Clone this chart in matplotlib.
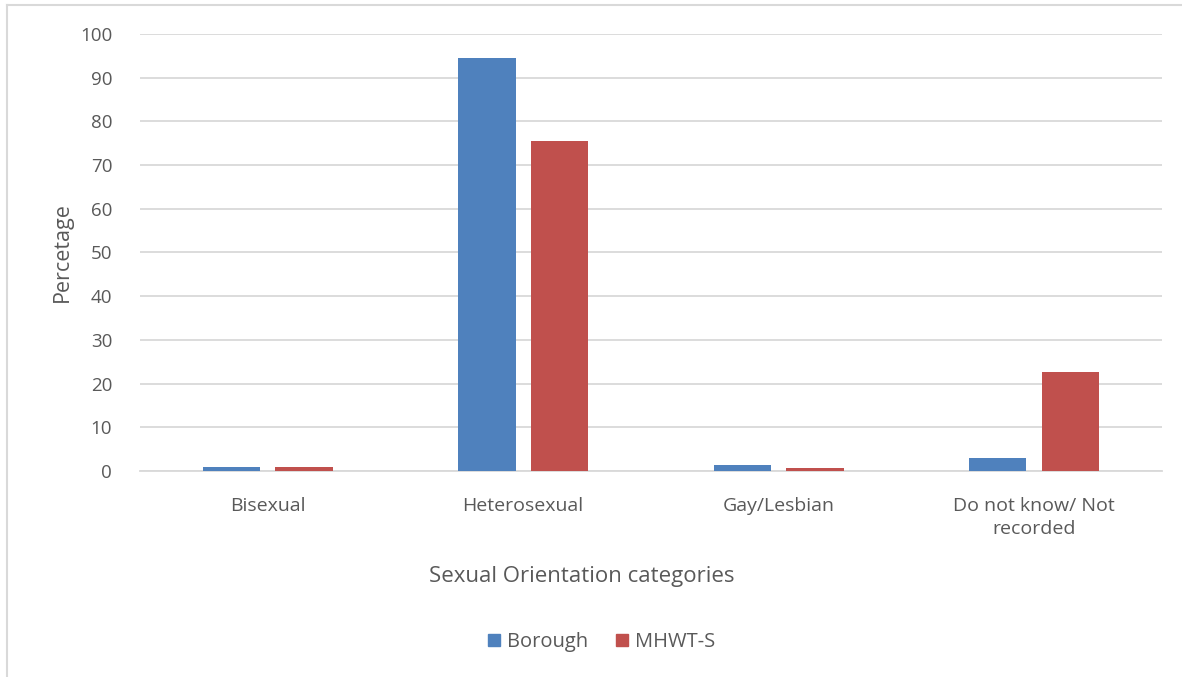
import numpy as np
import matplotlib
matplotlib.use('Agg')
import matplotlib.pyplot as plt
from matplotlib.lines import Line2D

plt.rcParams['font.family'] = ['Open Sans', 'DejaVu Sans']

categories = ['Bisexual', 'Heterosexual', 'Gay/Lesbian', 'Do not know/ Not\nrecorded']
borough = [0.9, 94.5, 1.4, 3.0]
mhwt_s = [1.0, 75.5, 0.6, 22.7]
series_names = ['Borough', 'MHWT-S']
yticks = list(range(0, 101, 10))

blue = '#4f81bd'
red = '#c0504d'
text_col = '#595959'
grid_col = '#d9d9d9'

fig = plt.figure(figsize=(11.82, 6.77), dpi=100)
ax = fig.add_axes([0.1184, 0.3043, 0.8646, 0.6455])

x = np.arange(len(categories))
width = 0.225
gap = 0.06
ax.bar(x - (width + gap) / 2, borough, width, color=blue, zorder=3)
ax.bar(x + (width + gap) / 2, mhwt_s, width, color=red, zorder=3)

ax.set_xlim(-0.5, len(categories) - 0.5)
ax.set_ylim(0, 100)
ax.set_yticks(yticks)
ax.set_xticks(x)
ax.set_xticklabels(categories, fontsize=14, color=text_col, linespacing=1.3)
ax.tick_params(axis='y', labelsize=13.5, labelcolor=text_col, length=0, pad=20)
ax.tick_params(axis='x', length=0, pad=19)

ax.grid(axis='y', color=grid_col, linewidth=1.3, zorder=0)
for side in ['top', 'right', 'left']:
    ax.spines[side].set_visible(False)
ax.spines['bottom'].set_color(grid_col)
ax.spines['bottom'].set_linewidth(1.3)

ax.set_ylabel('Percetage', fontsize=15.5, color=text_col, labelpad=5)
fig.text(0.4925, 0.148, 'Sexual Orientation categories', fontsize=16,
         color=text_col, ha='center', va='center')

handles = [Line2D([], [], marker='s', linestyle='none', markersize=8.5, color=c)
           for c in [blue, red]]
fig.legend(handles, series_names, loc='center', bbox_to_anchor=(0.509, 0.052),
           ncol=2, frameon=False, fontsize=14.5, handlelength=0.6,
           handletextpad=0.35, columnspacing=1.4, labelcolor=text_col)

# chart area frame (only top and left edges show)
fig.add_artist(Line2D([0.0055, 0.0055], [0.0, 0.9925], color=grid_col,
                      linewidth=1.5, transform=fig.transFigure))
fig.add_artist(Line2D([0.0055, 1.0], [0.9925, 0.9925], color=grid_col,
                      linewidth=1.5, transform=fig.transFigure))

fig.savefig('out.png', dpi=100)
